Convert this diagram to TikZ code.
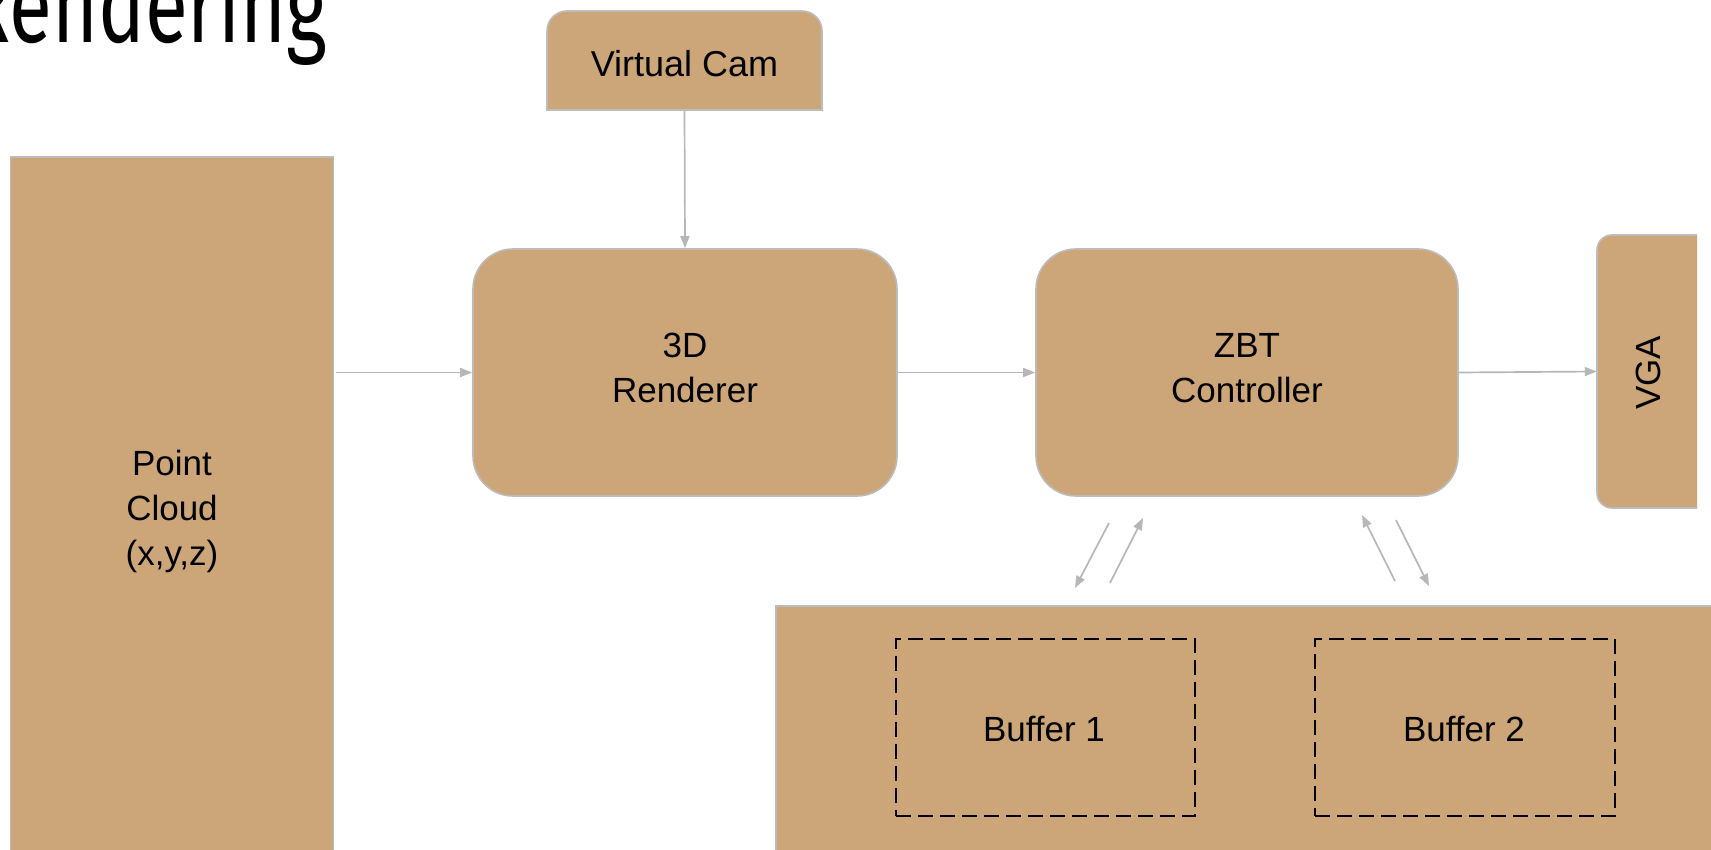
\documentclass[tikz,border=0pt]{standalone}
\usepackage{fontspec}
\setmainfont{Liberation Sans}
\newfontfamily\titlefont[FakeStretch=0.725]{Fira Sans}
\usetikzlibrary{arrows.meta}
\definecolor{tan}{RGB}{204,166,120}
\definecolor{edge}{RGB}{188,188,188}
\definecolor{conn}{RGB}{183,183,183}
\tikzset{
  boxfill/.style={fill=tan, draw=edge, line width=1.6pt},
  lbl/.style={font=\fontsize{35}{45}\selectfont, align=center, inner sep=0pt},
  conn/.style={draw=conn, line width=1.7pt, -{Triangle[length=12pt,width=9pt]}},
  dbox/.style={draw=black, line width=1.6pt, dash pattern=on 15pt off 7pt}
}
\begin{document}
\begin{tikzpicture}[x=1pt,y=-1pt]
\useasboundingbox[fill=white] (0,0) rectangle (1711,850);
% title
\node[anchor=base east, inner sep=0pt, font=\titlefont\fontsize{108}{108}\selectfont] (title) at (327,43) {Rendering};
% Point Cloud
\node[boxfill, rectangle, minimum width=323pt, minimum height=700pt, inner sep=0pt] (pc) at (172,507) {};
\node[lbl] (pct) at (172,511) {Point\\Cloud\\(x,y,z)};
% Virtual Cam (top corners rounded)
\path[boxfill] (547,110) -- (547,31) arc[start angle=180,end angle=270,radius=20] -- (802,11) arc[start angle=270,end angle=360,radius=20] -- (822,110) -- cycle;
\node[inner sep=0pt, minimum width=275pt, minimum height=99pt] (vc) at (684.5,60.5) {};
\node[lbl, font=\fontsize{36}{45}\selectfont] (vct) at (684.5,64) {Virtual Cam};
% 3D Renderer
\node[boxfill, rounded corners=40pt, minimum width=424pt, minimum height=247pt, inner sep=0pt] (ren) at (685,372.5) {};
\node[lbl] (rent) at (685,368) {3D\\Renderer};
% ZBT Controller
\node[boxfill, rounded corners=40pt, minimum width=422pt, minimum height=247pt, inner sep=0pt] (zbt) at (1247,372.5) {};
\node[lbl] (zbtt) at (1247,368) {ZBT\\Controller};
% VGA (left corners rounded)
\path[boxfill] (1697,235) -- (1612,235) arc[start angle=270,end angle=180,radius=15] -- (1597,493) arc[start angle=180,end angle=90,radius=15] -- (1697,508);
\node[inner sep=0pt, minimum width=100pt, minimum height=273pt] (vga) at (1647,371.5) {};
\node[lbl, rotate=90] (vgat) at (1648,373) {VGA};
% Buffer area
\node[boxfill, rectangle, minimum width=960pt, minimum height=270pt, inner sep=0pt, anchor=north west] (mem) at (775,605) {};
\node[dbox, minimum width=299pt, minimum height=177pt, inner sep=0pt] (b1) at (1045.5,727.5) {};
\node[lbl] (b1t) at (1044,729) {Buffer 1};
\node[dbox, minimum width=300pt, minimum height=177pt, inner sep=0pt] (b2) at (1465,727.5) {};
\node[lbl] (b2t) at (1464,729) {Buffer 2};
% connectors
\draw[conn] (vc.south) -- (ren.north);
\draw[conn] ([xshift=2pt]pc.east |- ren.west) -- (ren.west);
\draw[conn] (ren.east) -- (zbt.west);
\draw[conn] (zbt.east) -- (vga.west);
\coordinate (a1) at (1109,523); \coordinate (a2) at (1075,588);
\coordinate (b1s) at (1110,583); \coordinate (b1e) at (1143,518);
\coordinate (c1) at (1395,581); \coordinate (c2) at (1362,515);
\coordinate (d1) at (1396,520); \coordinate (d2) at (1429,586);
\draw[conn] (a1) -- (a2);
\draw[conn] (b1s) -- (b1e);
\draw[conn] (c1) -- (c2);
\draw[conn] (d1) -- (d2);
\end{tikzpicture}
\end{document}
